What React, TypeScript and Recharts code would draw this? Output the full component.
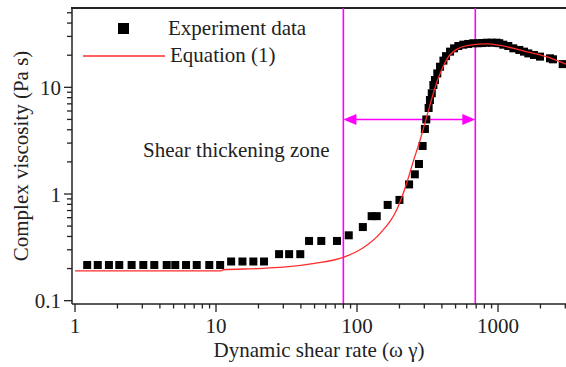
import React from "react";
import {
  ComposedChart,
  Scatter,
  XAxis,
  YAxis,
  ReferenceLine,
  Customized,
} from "recharts";

// experiment data (shear rate, complex viscosity)
const expRate = [
  1.22, 1.45, 1.74, 2.06, 2.52, 3.05, 3.65, 4.47, 5.14, 6.13, 7.3, 8.96, 10.7,
  12.8, 15.4, 18.4, 21.9, 28, 33, 39.6, 45.7, 55.8, 72.1, 87.4, 110, 127, 138,
  165, 200, 234, 257, 275, 292, 303, 310, 322, 329, 339, 348, 357, 371, 388,
  410, 428, 457, 488, 523, 567, 615, 668, 718, 770, 832, 900, 979, 1021, 1090,
  1183, 1284, 1416, 1528, 1640, 1799, 1985, 2337, 2455, 2876,
];
const expVisc = [
  0.216, 0.216, 0.216, 0.216, 0.216, 0.216, 0.216, 0.216, 0.216, 0.216, 0.216,
  0.216, 0.216, 0.233, 0.233, 0.233, 0.233, 0.273, 0.273, 0.273, 0.363, 0.363,
  0.363, 0.41, 0.49, 0.62, 0.62, 0.79, 0.88, 1.23, 1.53, 1.91, 2.82, 4.07, 5.0,
  6.4, 7.6, 8.8, 10.5, 11.7, 13.5, 15.6, 17.8, 19.6, 21.6, 23.2, 24.4, 25.1,
  25.5, 25.9, 25.9, 26.0, 26.2, 26.2, 26.2, 25.9, 25.1, 24.4, 23.2, 22.4, 21.6,
  20.8, 20.1, 19.4, 18.7, 18.3, 16.5,
];

// equation (1) fit
const fitRate = [
  1, 5, 10.9, 11.2, 20, 30, 50, 80, 110, 146, 191, 225, 250, 280, 312, 348, 375,
  410, 433, 509, 632, 832, 1033, 1510, 2204, 3035,
];
const fitVisc = [
  0.19, 0.19, 0.19, 0.195, 0.2, 0.206, 0.224, 0.255, 0.312, 0.428, 0.708, 1.26,
  2.0, 3.2, 5.3, 8.8, 12.0, 15.8, 18.3, 22.7, 24.9, 25.5, 24.7, 22.0, 19.4,
  16.5,
];

const zoneStart = 80;
const zoneEnd = 690;
const arrowLevel = 5;

const xTicks = [
  1, 2, 3, 4, 5, 6, 7, 8, 9, 10, 20, 30, 40, 50, 60, 70, 80, 90, 100, 200, 300,
  400, 500, 600, 700, 800, 900, 1000, 2000, 3000,
];
const xMajor = [1, 10, 100, 1000];
const yTicks = [
  0.1, 0.2, 0.3, 0.4, 0.5, 0.6, 0.7, 0.8, 0.9, 1, 2, 3, 4, 5, 6, 7, 8, 9, 10,
  20, 30, 40, 50,
];
const yMajor = [0.1, 1, 10];

const X_DOMAIN = [0.952, 3035];
const Y_DOMAIN = [0.0931, 55.4];

const expData = expRate.map((x, i) => ({ x, y: expVisc[i] }));
const fitData = fitRate.map((x, i) => ({ x, y: fitVisc[i] }));

const FONT = '"Liberation Serif", "Times New Roman", serif';
const INK = "#222";
const MAGENTA = "#ff00ff";
const RED = "#ff2a2a";

if (typeof document !== "undefined") document.body.style.margin = "0";

const XTick = (props: any) => {
  const { x, y, payload } = props;
  const major = xMajor.includes(payload.value);
  return (
    <g>
      <line x1={x} x2={x} y1={y} y2={y + (major ? 8 : 4.5)} stroke={INK} strokeWidth={1.3} />
      {major && (
        <text x={x} y={y + 29} textAnchor="middle" fontSize={21} fontFamily={FONT} fill={INK}>
          {payload.value}
        </text>
      )}
    </g>
  );
};

const YTick = (props: any) => {
  const { x, y, payload } = props;
  const major = yMajor.includes(payload.value);
  return (
    <g>
      <line x1={x - (major ? 8 : 5)} x2={x} y1={y} y2={y} stroke={INK} strokeWidth={1.3} />
      {major && (
        <text x={x - 11} y={y + 7.5} textAnchor="end" fontSize={21} fontFamily={FONT} fill={INK}>
          {payload.value}
        </text>
      )}
    </g>
  );
};

const Square = (props: any) => {
  const { cx, cy } = props;
  return <rect x={cx - 4} y={cy - 4} width={8} height={8} fill="#000" />;
};

const NoDot = () => <g />;

// horizontal double-headed arrow marking the thickening zone
const DoubleArrow = (props: any) => {
  const { x1, y1, x2 } = props;
  const y = y1;
  return (
    <g>
      <line x1={x1 + 10} x2={x2 - 10} y1={y} y2={y} stroke={MAGENTA} strokeWidth={1.6} />
      <polygon points={`${x1},${y} ${x1 + 13},${y - 5.5} ${x1 + 13},${y + 5.5}`} fill={MAGENTA} />
      <polygon points={`${x2},${y} ${x2 - 13},${y - 5.5} ${x2 - 13},${y + 5.5}`} fill={MAGENTA} />
    </g>
  );
};

const Annotations = () => (
  <g fontFamily={FONT} fill={INK}>
    {/* top frame of the plot box */}
    <rect x={71} y={7} width={495} height={2} fill={INK} />
    <rect x={118} y={23} width={11} height={11} fill="#000" />
    <text x={168} y={35} fontSize={21}>Experiment data</text>
    <line x1={83} x2={165} y1={56} y2={56} stroke={RED} strokeWidth={1.4} />
    <text x={170} y={62} fontSize={21}>Equation (1)</text>
    <text x={143} y={157} fontSize={21}>Shear thickening zone</text>
    <text x={319} y={357} fontSize={21} textAnchor="middle">
      Dynamic shear rate (ω γ)
    </text>
    <text x={21} y={156} fontSize={21} textAnchor="middle" transform="rotate(-90 21 156)" dominantBaseline="central">
      Complex viscosity (Pa s)
    </text>
  </g>
);

export default function App() {
  return (
    <div style={{ width: 566, height: 367, background: "#fff" }}>
      <ComposedChart width={566} height={367} margin={{ top: 8, right: 0, bottom: 0, left: 0 }}>
        <XAxis
          dataKey="x"
          type="number"
          scale="log"
          domain={X_DOMAIN}
          allowDataOverflow
          ticks={xTicks}
          interval={0}
          tick={<XTick />}
          tickLine={false}
          tickSize={0}
          tickMargin={0}
          height={63}
          axisLine={{ stroke: INK, strokeWidth: 1.5 }}
        />
        <YAxis
          type="number"
          scale="log"
          domain={Y_DOMAIN}
          allowDataOverflow
          ticks={yTicks}
          interval={0}
          tick={<YTick />}
          tickLine={false}
          tickSize={0}
          tickMargin={0}
          width={72}
          axisLine={{ stroke: INK, strokeWidth: 1.5 }}
        />
        <ReferenceLine x={zoneStart} stroke={MAGENTA} strokeWidth={1.6} />
        <ReferenceLine x={zoneEnd} stroke={MAGENTA} strokeWidth={1.6} />
        <ReferenceLine
          segment={[
            { x: zoneStart, y: arrowLevel },
            { x: zoneEnd, y: arrowLevel },
          ]}
          shape={DoubleArrow}
        />
        <Scatter data={expData} dataKey="y" shape={<Square />} isAnimationActive={false} />
        <Scatter
          data={fitData}
          dataKey="y"
          shape={<NoDot />}
          line={{ stroke: RED, strokeWidth: 1.3 }}
          lineJointType="monotoneX"
          isAnimationActive={false}
        />
        <Customized component={Annotations} />
      </ComposedChart>
    </div>
  );
}
